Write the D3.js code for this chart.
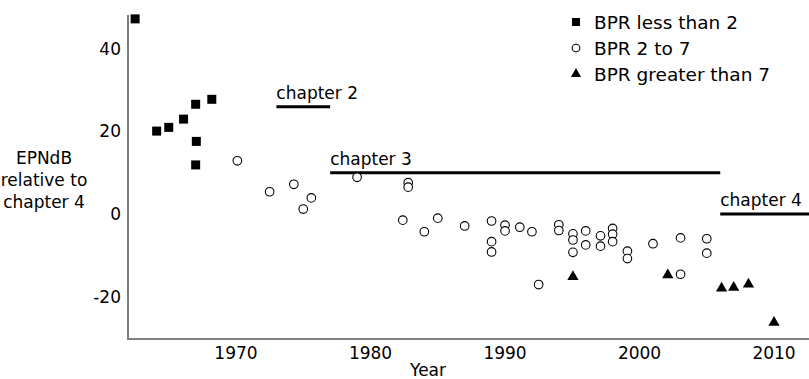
<!DOCTYPE html>
<html lang="en">
<head>
    <meta charset="UTF-8">
    <title>EPNdB relative to chapter 4</title>
    <style>
        body { margin: 0; background: #fff; }
        svg { display: block; font-family: "DejaVu Sans", sans-serif; }
    </style>
</head>
<body>
    <div id="chart"></div>
    <script src="https://d3js.org/d3.v7.min.js"></script>
    <script>
        // BPR less than 2 (squares)
        const lowYears = [1962.5, 1964.1, 1965.0, 1966.1, 1967.0, 1968.2, 1967.05, 1967.0];
        const lowValues = [47.3, 20.1, 21.0, 23.0, 26.6, 27.8, 17.6, 11.9];

        // BPR 2 to 7 (open circles)
        const midYears = [1970.1, 1972.5, 1974.3, 1975.0, 1975.6, 1979.0, 1982.8, 1982.8, 1982.4, 1984.0,
                          1985.0, 1987.0, 1989.0, 1989.0, 1989.0, 1990.0, 1990.0, 1991.1, 1992.0, 1992.5,
                          1994.0, 1994.0, 1995.05, 1995.05, 1995.05, 1996.0, 1996.0, 1997.1, 1997.1, 1998.0,
                          1998.0, 1998.0, 1999.1, 1999.1, 2001.0, 2003.05, 2003.05, 2005.0, 2005.0];
        const midValues = [12.9, 5.4, 7.2, 1.2, 3.9, 8.9, 7.6, 6.5, -1.5, -4.3,
                           -1.0, -2.9, -1.7, -6.7, -9.2, -2.7, -4.1, -3.2, -4.3, -17.1,
                           -2.6, -4.0, -4.8, -6.3, -9.3, -4.1, -7.5, -5.3, -7.8, -3.5,
                           -4.9, -6.7, -9.0, -10.8, -7.2, -5.8, -14.6, -6.0, -9.5];

        // BPR greater than 7 (triangles)
        const highYears = [1995.05, 2002.1, 2006.1, 2007.0, 2008.1, 2010.0];
        const highValues = [-15.2, -14.8, -18.0, -17.8, -17.0, -26.3];

        // noise limit steps
        const chapterNames = ["chapter 2", "chapter 3", "chapter 4"];
        const chapterStart = [1973.0, 1977.0, 2006.0];
        const chapterEnd = [1977.0, 2006.0, 2012.6];
        const chapterLevel = [26, 10, 0];

        const xTicks = [1970, 1980, 1990, 2000, 2010];
        const yTicks = [-20, 0, 20, 40];
        const legendLabels = ["BPR less than 2", "BPR 2 to 7", "BPR greater than 7"];

        const width = 809, height = 379;
        const plotLeft = 128, plotRight = 809, plotTop = 15, plotBottom = 339;
        const fontSize = 17;

        const svg = d3.select("#chart").append("svg")
            .attr("width", width)
            .attr("height", height);

        const x = d3.scaleLinear().domain([1961.97, 2012.6]).range([plotLeft, plotRight]);
        const y = d3.scaleLinear().domain([-30.3, 48.24]).range([plotBottom, plotTop]);

        // axes (no tick marks, just the lines and labels)
        svg.append("line")
            .attr("x1", plotLeft).attr("x2", plotLeft)
            .attr("y1", plotTop).attr("y2", plotBottom)
            .attr("stroke", "#7f7f7f").attr("stroke-width", 2);
        svg.append("line")
            .attr("x1", plotLeft - 1).attr("x2", plotRight)
            .attr("y1", plotBottom).attr("y2", plotBottom)
            .attr("stroke", "#7f7f7f").attr("stroke-width", 2);

        svg.selectAll(".xtick").data(xTicks).enter().append("text")
            .attr("x", d => x(d))
            .attr("y", plotBottom + 20)
            .attr("text-anchor", "middle")
            .attr("font-size", fontSize)
            .text(d => d);

        svg.selectAll(".ytick").data(yTicks).enter().append("text")
            .attr("x", plotLeft - 7)
            .attr("y", d => y(d) + 6)
            .attr("text-anchor", "end")
            .attr("font-size", fontSize)
            .text(d => d);

        svg.append("text")
            .attr("x", 428).attr("y", 376)
            .attr("text-anchor", "middle")
            .attr("font-size", fontSize)
            .text("Year");

        const yLabel = svg.append("text")
            .attr("text-anchor", "middle")
            .attr("font-size", fontSize);
        ["EPNdB", "relative to", "chapter 4"].forEach((t, i) => {
            yLabel.append("tspan")
                .attr("x", 44)
                .attr("y", 164 + i * 22)
                .text(t);
        });

        // chapter limit lines
        chapterNames.forEach((name, i) => {
            svg.append("line")
                .attr("x1", x(chapterStart[i])).attr("x2", x(chapterEnd[i]))
                .attr("y1", y(chapterLevel[i])).attr("y2", y(chapterLevel[i]))
                .attr("stroke", "#000").attr("stroke-width", 3);
            svg.append("text")
                .attr("x", x(chapterStart[i]))
                .attr("y", y(chapterLevel[i]) - 8)
                .attr("font-size", fontSize)
                .text(name);
        });

        // markers
        const sq = 9;
        svg.selectAll(".low").data(lowYears).enter().append("rect")
            .attr("x", (d, i) => x(d) - sq / 2)
            .attr("y", (d, i) => y(lowValues[i]) - sq / 2)
            .attr("width", sq).attr("height", sq)
            .attr("fill", "#000");

        svg.selectAll(".mid").data(midYears).enter().append("circle")
            .attr("cx", d => x(d))
            .attr("cy", (d, i) => y(midValues[i]))
            .attr("r", 4.3)
            .attr("fill", "#fff")
            .attr("stroke", "#000")
            .attr("stroke-width", 1.1);

        const tri = d3.symbol().type(d3.symbolTriangle).size(55);
        svg.selectAll(".high").data(highYears).enter().append("path")
            .attr("d", tri)
            .attr("transform", (d, i) => `translate(${x(d)},${y(highValues[i])})`)
            .attr("fill", "#000");

        // legend
        const lx = 576, ly = 22, gap = 26;
        const legend = svg.append("g");
        legend.append("rect")
            .attr("x", lx - 4).attr("y", ly - 4)
            .attr("width", 8).attr("height", 8)
            .attr("fill", "#000");
        legend.append("circle")
            .attr("cx", lx).attr("cy", ly + gap)
            .attr("r", 3.8)
            .attr("fill", "#fff").attr("stroke", "#000").attr("stroke-width", 1.1);
        legend.append("path")
            .attr("d", d3.symbol().type(d3.symbolTriangle).size(45))
            .attr("transform", `translate(${lx},${ly + 2 * gap})`)
            .attr("fill", "#000");
        legendLabels.forEach((t, i) => {
            legend.append("text")
                .attr("x", lx + 18)
                .attr("y", ly + i * gap + 7)
                .attr("font-size", 18.5)
                .text(t);
        });
    </script>
</body>
</html>
